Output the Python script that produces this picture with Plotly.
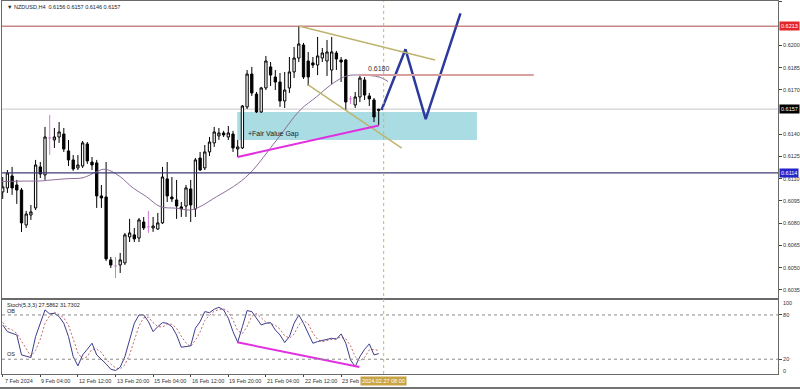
import plotly.graph_objects as go

# ---------------- data ----------------
candle_idx = list(range(81))
opens = [0.61011, 0.61038, 0.61119, 0.61058, 0.61024, 0.60788, 0.60855, 0.60903, 0.61180, 0.61126,
         0.61375, 0.61362, 0.61382, 0.61402, 0.61288, 0.61227, 0.61173, 0.61186, 0.61335, 0.61213,
         0.61207, 0.60984, 0.60977, 0.60552, 0.60511, 0.60518, 0.60532, 0.60707, 0.60721, 0.60700,
         0.60808, 0.60775, 0.60768, 0.60761, 0.60802, 0.61099, 0.60977, 0.60957, 0.60910, 0.60916,
         0.61031, 0.60896, 0.61240, 0.61173, 0.61281, 0.61342, 0.61389, 0.61409, 0.61382, 0.61402,
         0.61301, 0.61308, 0.61585, 0.61807, 0.61672, 0.61551, 0.61713, 0.61855, 0.61787, 0.61753,
         0.61625, 0.61713, 0.61821, 0.61915, 0.62003, 0.61895, 0.61882, 0.61868, 0.61915, 0.61895,
         0.61834, 0.61949, 0.61902, 0.61902, 0.61639, 0.61598, 0.61652, 0.61767, 0.61659, 0.61632,
         0.61560]
highs = [0.61112, 0.61159, 0.61180, 0.61092, 0.61038, 0.60883, 0.60923, 0.61227, 0.61213, 0.61450,
         0.61531, 0.61443, 0.61483, 0.61443, 0.61362, 0.61260, 0.61260, 0.61355, 0.61348, 0.61247,
         0.61227, 0.61058, 0.61213, 0.60572, 0.60572, 0.60599, 0.60734, 0.60829, 0.60768, 0.60835,
         0.60842, 0.60883, 0.60842, 0.60869, 0.61180, 0.61213, 0.61112, 0.61092, 0.60943, 0.61058,
         0.61092, 0.61240, 0.61281, 0.61328, 0.61382, 0.61450, 0.61443, 0.61423, 0.61456, 0.61423,
         0.61362, 0.61598, 0.61834, 0.61855, 0.61686, 0.61720, 0.61929, 0.61888, 0.61834, 0.61814,
         0.61821, 0.61922, 0.61990, 0.62131, 0.62017, 0.61956, 0.61922, 0.62057, 0.61983, 0.62037,
         0.62057, 0.61963, 0.61922, 0.61908, 0.61659, 0.61686, 0.61794, 0.61787, 0.61679, 0.61645,
         0.61570]
lows = [0.60964, 0.61004, 0.60991, 0.60930, 0.60741, 0.60768, 0.60822, 0.60889, 0.61105, 0.61092,
        0.61260, 0.61308, 0.61342, 0.61281, 0.61186, 0.61153, 0.61159, 0.61173, 0.61200, 0.61159,
        0.60903, 0.60903, 0.60545, 0.60498, 0.60430, 0.60464, 0.60518, 0.60673, 0.60673, 0.60673,
        0.60754, 0.60734, 0.60741, 0.60754, 0.60795, 0.60943, 0.60943, 0.60829, 0.60842, 0.60842,
        0.60808, 0.60842, 0.61153, 0.61159, 0.61254, 0.61315, 0.61362, 0.61382, 0.61362, 0.61281,
        0.61247, 0.61301, 0.61571, 0.61659, 0.61544, 0.61544, 0.61699, 0.61726, 0.61699, 0.61585,
        0.61578, 0.61679, 0.61780, 0.61888, 0.61774, 0.61726, 0.61848, 0.61800, 0.61888, 0.61794,
        0.61740, 0.61834, 0.61753, 0.61564, 0.61605, 0.61578, 0.61618, 0.61632, 0.61591, 0.61483,
        0.61460]
closes = [0.61045, 0.61139, 0.61038, 0.61024, 0.60802, 0.60862, 0.60876, 0.61193, 0.61132, 0.61382,
          0.61375, 0.61382, 0.61416, 0.61301, 0.61227, 0.61166, 0.61193, 0.61342, 0.61220, 0.61193,
          0.60984, 0.60970, 0.60559, 0.60518, 0.60511, 0.60552, 0.60721, 0.60734, 0.60694, 0.60822,
          0.60768, 0.60775, 0.60781, 0.60802, 0.61112, 0.60984, 0.60964, 0.60916, 0.60896, 0.61038,
          0.60923, 0.61227, 0.61159, 0.61281, 0.61348, 0.61416, 0.61409, 0.61396, 0.61409, 0.61308,
          0.61315, 0.61591, 0.61807, 0.61679, 0.61551, 0.61713, 0.61895, 0.61800, 0.61753, 0.61625,
          0.61699, 0.61821, 0.61915, 0.62010, 0.61787, 0.61787, 0.61868, 0.61929, 0.61949, 0.61956,
          0.61956, 0.61908, 0.61888, 0.61618, 0.61639, 0.61652, 0.61780, 0.61665, 0.61639, 0.61517,
          0.61570]

ma_idx = [-0.6, 3.7, 7.9, 10.1, 13.6, 17.1, 20.0, 21.4, 22.8, 25.0, 27.8, 30.6, 33.5, 37.0,
          39.9, 42.0, 45.5, 49.1, 52.6, 58.3, 63.3, 66.8, 70.3, 73.2, 76.0, 80.3, 82.0]
ma_val = [0.61081, 0.61084, 0.61085, 0.61091, 0.61100, 0.61107, 0.61148, 0.61164, 0.61155,
          0.61114, 0.61036, 0.60979, 0.60912, 0.60901, 0.60889, 0.60912, 0.60979, 0.61047,
          0.61137, 0.61362, 0.61564, 0.61654, 0.61745, 0.61794, 0.61800, 0.61785, 0.61756]

stoch_main = [66.5, 57.4, 55.2, 52.9, 25.9, 23.6, 22.3, 50.7, 68.7, 86.8,
              81.4, 82.3, 77.7, 68.7, 50.7, 23.6, 11.0, 25.9, 33.5, 41.7,
              25.9, 20.0, 13.7, 6.5, 4.7, 9.2, 23.6, 46.2, 68.7, 80.0,
              80.0, 71.0, 57.4, 64.2, 69.6, 68.7, 64.2, 52.9, 36.3, 37.2,
              38.1, 62.0, 71.0, 84.5, 83.1, 87.7, 90.4, 86.8, 75.5, 57.4,
              43.0, 64.2, 85.9, 84.5, 75.5, 66.5, 68.7, 69.6, 59.7, 52.9,
              42.6, 50.7, 68.7, 80.0, 68.7, 55.2, 41.7, 43.9, 45.3, 47.1,
              48.4, 47.1, 54.3, 41.7, 19.1, 10.0, 23.6, 33.5, 40.8, 25.9,
              27.6]
stoch_signal = [70.0, 62.0, 59.7, 55.2, 44.7, 34.1, 23.9, 32.2, 47.2, 68.7,
                79.0, 83.5, 80.5, 76.2, 65.7, 47.7, 28.4, 20.2, 23.5, 33.7,
                33.7, 29.2, 19.9, 13.4, 8.3, 6.8, 12.5, 26.3, 46.2, 65.0,
                76.2, 77.0, 69.5, 64.2, 63.7, 67.5, 67.5, 61.9, 51.1, 42.1,
                37.2, 45.8, 57.0, 72.5, 79.5, 85.1, 87.1, 88.3, 84.2, 73.2,
                58.6, 54.9, 64.4, 78.2, 82.0, 75.5, 70.2, 68.3, 66.0, 60.7,
                51.7, 48.7, 54.0, 66.5, 72.5, 68.0, 55.2, 46.9, 43.6, 45.4,
                46.9, 47.5, 49.9, 47.7, 38.4, 23.6, 17.6, 22.4, 32.6, 33.4,
                31.7]

date_ticks = [0, 8, 16, 24, 32, 40, 48, 56, 64, 72]
date_labels = ["7 Feb 2024", "9 Feb 04:00", "12 Feb 12:00", "13 Feb 20:00", "15 Feb 04:00",
               "16 Feb 12:00", "19 Feb 20:00", "21 Feb 04:00", "22 Feb 12:00", "23 Feb"]
cursor_label = "2024.02.27 08:00"
cursor_x = 81.06

price_ticks = [0.6230, 0.6200, 0.6185, 0.6170, 0.6140, 0.6125, 0.6110,
               0.6095, 0.6080, 0.6065, 0.6050, 0.6035]
resistance = 0.6213
support = 0.6114
bid = 0.6157
target_level = 0.6180
target_span = [75.8, 113.0]
fvg_x = [49.9, 100.9]
fvg_y = [0.61362, 0.61551]
fvg_label_pos = [51.7, 0.61400]
channel_upper_x = [63.0, 92.0]
channel_upper_y = [0.62131, 0.61902]
channel_lower_x = [65.0, 84.9]
channel_lower_y = [0.61733, 0.61306]
div_price_x = [50.0, 80.0]
div_price_y = [0.61247, 0.61460]
div_stoch_x = [49.9, 75.9]
div_stoch_y = [43.0, 9.6]
path_x = [80.6, 85.7, 90.0, 97.4]
path_y = [0.61564, 0.61974, 0.61502, 0.62217]
stoch_levels = [80, 20]

title_text = "\u25BC NZDUSD,H4  0.6156 0.6157 0.6146 0.6157"
stoch_text = "Stoch(5,3,3) 27.5862 31.7302"

# ---------------- styling ----------------
FONT = "Liberation Sans, Arial, sans-serif"
X_RANGE = [-0.15, 164.96]
Y_RANGE = [0.60297, 0.62300]
MAIN_DOMAIN = [0.2046, 1.0]
STOCH_DOMAIN = [0.0, 0.1979]
DOJI_HALF = 0.33

fig = go.Figure()

norm = [i for i in candle_idx if opens[i] != closes[i]]
doji = [i for i in candle_idx if opens[i] == closes[i]]

fig.add_trace(go.Candlestick(
    x=norm,
    open=[opens[i] for i in norm], high=[highs[i] for i in norm],
    low=[lows[i] for i in norm], close=[closes[i] for i in norm],
    increasing=dict(line=dict(color="#000000", width=1), fillcolor="#ffffff"),
    decreasing=dict(line=dict(color="#000000", width=1), fillcolor="#000000"),
    whiskerwidth=0, showlegend=False, hoverinfo="skip", xaxis="x", yaxis="y"))

dx, dy = [], []
for i in doji:
    dx += [i, i, None, i - DOJI_HALF, i + DOJI_HALF, None]
    dy += [lows[i], highs[i], None, opens[i], closes[i], None]
fig.add_trace(go.Scatter(x=dx, y=dy, mode="lines", line=dict(color="#d67ad6", width=1),
                         showlegend=False, hoverinfo="skip", xaxis="x", yaxis="y"))

fig.add_trace(go.Scatter(x=ma_idx, y=ma_val, mode="lines", line=dict(color="#8c6e9c", width=1, shape="spline"),
                         showlegend=False, hoverinfo="skip", xaxis="x", yaxis="y"))

fig.add_trace(go.Scatter(x=path_x, y=path_y, mode="lines", line=dict(color="#2b3a9c", width=2.5),
                         showlegend=False, hoverinfo="skip", xaxis="x", yaxis="y"))

fig.add_trace(go.Scatter(x=candle_idx, y=stoch_signal, mode="lines",
                         line=dict(color="#c06868", width=1, dash="2px,2px"),
                         showlegend=False, hoverinfo="skip", xaxis="x2", yaxis="y2"))
fig.add_trace(go.Scatter(x=candle_idx, y=stoch_main, mode="lines",
                         line=dict(color="#3c3c8c", width=1),
                         showlegend=False, hoverinfo="skip", xaxis="x2", yaxis="y2"))

shapes = []
shapes.append(dict(type="rect", xref="x", yref="y", x0=fvg_x[0], x1=fvg_x[1], y0=fvg_y[0], y1=fvg_y[1],
                   fillcolor="#a9dce3", line=dict(width=0), layer="below"))
shapes.append(dict(type="line", xref="paper", yref="y", x0=0, x1=1, y0=bid, y1=bid,
                   line=dict(color="#c8c8c8", width=1), layer="below"))
shapes.append(dict(type="line", xref="paper", yref="y", x0=0, x1=1, y0=resistance, y1=resistance,
                   line=dict(color="#b04a4a", width=1)))
shapes.append(dict(type="line", xref="paper", yref="y", x0=0, x1=1, y0=support, y1=support,
                   line=dict(color="#3c3c72", width=1.3)))
shapes.append(dict(type="line", xref="x", yref="y", x0=target_span[0], x1=target_span[1],
                   y0=target_level, y1=target_level, line=dict(color="#d8a0a0", width=2)))
shapes.append(dict(type="line", xref="x", yref="y", x0=channel_upper_x[0], x1=channel_upper_x[1],
                   y0=channel_upper_y[0], y1=channel_upper_y[1], line=dict(color="#bdb46e", width=1.5)))
shapes.append(dict(type="line", xref="x", yref="y", x0=channel_lower_x[0], x1=channel_lower_x[1],
                   y0=channel_lower_y[0], y1=channel_lower_y[1], line=dict(color="#bdb46e", width=1.5)))
shapes.append(dict(type="line", xref="x", yref="y", x0=div_price_x[0], x1=div_price_x[1],
                   y0=div_price_y[0], y1=div_price_y[1], line=dict(color="#e030e0", width=2)))
shapes.append(dict(type="line", xref="x2", yref="y2", x0=div_stoch_x[0], x1=div_stoch_x[1],
                   y0=div_stoch_y[0], y1=div_stoch_y[1], line=dict(color="#e030e0", width=2)))
for lv in stoch_levels:
    shapes.append(dict(type="line", xref="paper", yref="y2", x0=0, x1=1, y0=lv, y1=lv,
                       line=dict(color="#8a8a8a", width=1, dash="dot")))
shapes.append(dict(type="line", xref="x", yref="paper", x0=cursor_x, x1=cursor_x, y0=0, y1=1,
                   line=dict(color="#c8b46e", width=1, dash="dot")))
shapes.append(dict(type="line", xref="paper", yref="paper", x0=-0.01, x1=1.04, y0=-0.0375, y1=-0.0375,
                   line=dict(color="#444444", width=1.5)))

ann = []
ann.append(dict(text=title_text, xref="paper", yref="paper", x=0, y=1, xanchor="left", yanchor="top",
                xshift=3, yshift=-1, showarrow=False, font=dict(size=5.5, color="#222222", family=FONT)))
ann.append(dict(text=f"{target_level:.4f}", xref="x", yref="y", x=77.4, y=target_level,
                xanchor="left", yanchor="bottom", yshift=1, showarrow=False,
                font=dict(size=7, color="#333333", family=FONT)))
ann.append(dict(text="+Fair Value Gap", xref="x", yref="y", x=fvg_label_pos[0], y=fvg_label_pos[1],
                xanchor="left", yanchor="middle", showarrow=False,
                font=dict(size=7, color="#222222", family=FONT)))
for val, bg in [(resistance, "#e3262a"), (bid, "#000000"), (support, "#2424c8")]:
    ann.append(dict(text=f"{val:.4f}", xref="paper", yref="y", x=1, y=val, xanchor="left",
                    yanchor="middle", xshift=1, showarrow=False, bgcolor=bg, borderpad=1,
                    font=dict(size=5.5, color="#ffffff", family=FONT)))
ann.append(dict(text=stoch_text, xref="paper", yref="y2", x=0, y=100, xanchor="left", yanchor="top",
                xshift=3, yshift=0, showarrow=False, font=dict(size=5.5, color="#222222", family=FONT)))
ann.append(dict(text="OB", xref="paper", yref="y2", x=0, y=80, xanchor="left", yanchor="bottom",
                xshift=3, yshift=-1, showarrow=False, font=dict(size=5.5, color="#222222", family=FONT)))
ann.append(dict(text="OS", xref="paper", yref="y2", x=0, y=20, xanchor="left", yanchor="bottom",
                xshift=3, showarrow=False, font=dict(size=5.5, color="#222222", family=FONT)))
for val, txt in [(96, "100"), (4, "0")]:
    ann.append(dict(text=txt, xref="paper", yref="y2", x=1, y=val, xanchor="left", yanchor="middle",
                    xshift=3, showarrow=False, font=dict(size=5.5, color="#333333", family=FONT)))
for t, lab in zip(date_ticks, date_labels):
    ann.append(dict(text=lab, xref="x2", yref="paper", x=max(t - 0.2, 0), y=0, xanchor="left",
                    yanchor="top", yshift=-2, showarrow=False,
                    font=dict(size=5.5, color="#333333", family=FONT)))
ann.append(dict(text=cursor_label, xref="x2", yref="paper", x=76.0, y=0, xanchor="left", yanchor="top",
                yshift=-2, showarrow=False, bgcolor="#c9a445", borderpad=1,
                font=dict(size=5.5, color="#ffffff", family=FONT)))

axis_line = "#6a6a6a"
fig.update_layout(
    width=800, height=389,
    margin=dict(l=2, r=22, t=1, b=15),
    paper_bgcolor="#ffffff", plot_bgcolor="#ffffff",
    font=dict(family=FONT, size=5.5, color="#333333"),
    showlegend=False, boxgap=0.3,
    shapes=shapes, annotations=ann,
    xaxis=dict(domain=[0, 1], range=X_RANGE, anchor="y", showgrid=False, zeroline=False,
               showticklabels=False, showline=True, mirror=True, linecolor=axis_line, linewidth=1,
               rangeslider=dict(visible=False), fixedrange=True),
    yaxis=dict(domain=MAIN_DOMAIN, range=Y_RANGE, side="right", anchor="x", showgrid=False,
               zeroline=False, tickvals=price_ticks, ticktext=[f"{v:.4f}" for v in price_ticks],
               ticks="outside", ticklen=3, tickcolor="#444444", tickfont=dict(size=5.5, color="#333333"),
               showline=True, mirror=True, linecolor=axis_line, linewidth=1),
    xaxis2=dict(domain=[0, 1], matches="x", anchor="y2", showgrid=False, zeroline=False,
                tickvals=date_ticks, ticktext=["" for _ in date_ticks], ticks="outside", ticklen=2,
                tickcolor="#444444", showline=True, mirror=True, linecolor=axis_line, linewidth=1,
                rangeslider=dict(visible=False)),
    yaxis2=dict(domain=STOCH_DOMAIN, range=[0, 100], side="right", anchor="x2", showgrid=False,
                zeroline=False, tickvals=stoch_levels, ticktext=[str(v) for v in stoch_levels],
                ticks="outside", ticklen=3, tickcolor="#444444", tickfont=dict(size=5.5, color="#333333"),
                showline=True, mirror=True, linecolor=axis_line, linewidth=1),
)

fig.write_html("out.html", config={"displayModeBar": False},
               post_script="document.body.style.margin='0px';document.body.style.padding='0px';")
